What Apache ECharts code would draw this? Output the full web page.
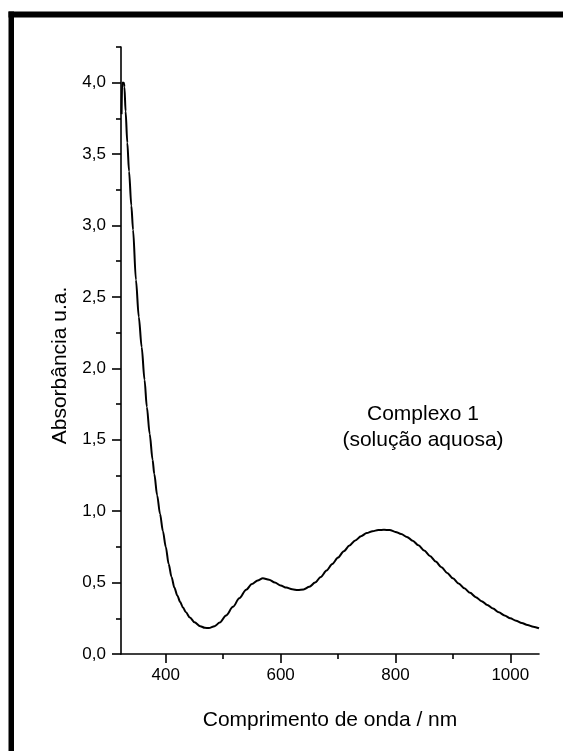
<!DOCTYPE html>
<html>
<head>
<meta charset="utf-8">
<script src="https://cdn.jsdelivr.net/npm/echarts@6/dist/echarts.min.js"></script>
<style>
html,body{margin:0;padding:0;background:#fff;}
#chart{width:563px;height:751px;}
</style>
</head>
<body>
<div id="chart"></div>
<script>
var wavelength = [323,324,327,328,330,333,336,340,343,348,353,358,363,367,372,377,380,385,390,395,400,405,410,415,420,425,430,435,442,450,460,468,475,485,494,505,517,528,540,550,560,569,580,590,600,610,620,630,640,650,660,670,680,690,700,710,720,730,740,750,760,770,780,790,800,810,820,830,840,850,860,870,880,890,900,910,920,930,940,950,960,970,980,990,1000,1010,1020,1030,1040,1050];
var absorbance = [3.78,4.0,4.0,3.97,3.80,3.58,3.38,3.14,2.97,2.62,2.36,2.15,1.92,1.73,1.54,1.36,1.26,1.11,0.98,0.86,0.75,0.63,0.54,0.465,0.41,0.365,0.325,0.292,0.255,0.222,0.195,0.183,0.182,0.195,0.22,0.27,0.33,0.39,0.45,0.49,0.515,0.53,0.52,0.50,0.48,0.465,0.453,0.448,0.452,0.47,0.50,0.54,0.585,0.63,0.675,0.72,0.76,0.795,0.825,0.847,0.86,0.868,0.87,0.868,0.855,0.84,0.82,0.793,0.762,0.725,0.687,0.648,0.608,0.568,0.53,0.494,0.46,0.428,0.398,0.37,0.343,0.318,0.292,0.27,0.25,0.233,0.217,0.203,0.191,0.18];
var xMajorTicks = [400,600,800,1000];
var xMinorTicks = [500,700,900];
var yMajorTicks = [0,0.5,1.0,1.5,2.0,2.5,3.0,3.5,4.0];
var yMinorTicks = [0.25,0.75,1.25,1.75,2.25,2.75,3.25,3.75,4.25];
var xTitle = 'Comprimento de onda / nm';
var yTitle = 'Absorbância u.a.';
var noteText = 'Complexo 1\n(solução aquosa)';

var FONT = '"Liberation Sans", Arial, sans-serif';
var data = wavelength.map(function(w,i){return [w, absorbance[i]];});
var chart = echarts.init(document.getElementById('chart'), null, {renderer:'canvas'});
var axisLine = {show:true, lineStyle:{color:'#000', width:1.6}};
chart.setOption({
  animation:false,
  backgroundColor:'#fff',
  grid:{left:121, top:47, right:24, bottom:97, containLabel:false},
  xAxis:[{
    type:'value', min:322, max:1050, gridIndex:0, position:'bottom',
    axisLine:axisLine,
    axisTick:{show:true, inside:false, length:9, customValues:xMajorTicks, lineStyle:{color:'#000', width:1.6}},
    axisLabel:{show:true, customValues:xMajorTicks, margin:13, fontSize:17, color:'#000', fontFamily:FONT,
      formatter:function(v){return String(v);}},
    splitLine:{show:false},
    name:xTitle, nameLocation:'middle', nameGap:56,
    nameTextStyle:{fontSize:21, color:'#000', fontFamily:FONT}
  },{
    type:'value', min:322, max:1050, gridIndex:0, position:'bottom',
    axisLine:{show:false},
    axisTick:{show:true, length:5, customValues:xMinorTicks, lineStyle:{color:'#000', width:1.6}},
    axisLabel:{show:false}, splitLine:{show:false}
  }],
  yAxis:[{
    type:'value', min:0, max:4.25, gridIndex:0, position:'left',
    axisLine:axisLine,
    axisTick:{show:true, length:9, customValues:yMajorTicks, lineStyle:{color:'#000', width:1.6}},
    axisLabel:{show:true, customValues:yMajorTicks, margin:15, fontSize:17, color:'#000', fontFamily:FONT,
      formatter:function(v){return v.toFixed(1).replace('.', ',');}},
    splitLine:{show:false},
    name:yTitle, nameLocation:'middle', nameGap:50,
    nameTextStyle:{fontSize:21, color:'#000', fontFamily:FONT, padding:[0,30,0,0]}
  },{
    type:'value', min:0, max:4.25, gridIndex:0, position:'left',
    axisLine:{show:false},
    axisTick:{show:true, length:5, customValues:yMinorTicks, lineStyle:{color:'#000', width:1.6}},
    axisLabel:{show:false}, splitLine:{show:false}
  }],
  series:[{
    type:'line', xAxisIndex:0, yAxisIndex:0, data:data,
    showSymbol:false, smooth:0.3, smoothMonotone:'x',
    lineStyle:{color:'#000', width:2}, silent:true
  }],
  graphic:[
    {type:'rect', left:8.5, top:11.5, shape:{width:555, height:6}, style:{fill:'#000'}},
    {type:'rect', left:8.5, top:11.5, shape:{width:5.5, height:740}, style:{fill:'#000'}},
    {type:'text', x:423, y:401, style:{text:noteText, font:'21px ' + FONT, fill:'#000', textAlign:'center', textVerticalAlign:'top', lineHeight:26}}
  ]
});
</script>
</body>
</html>
